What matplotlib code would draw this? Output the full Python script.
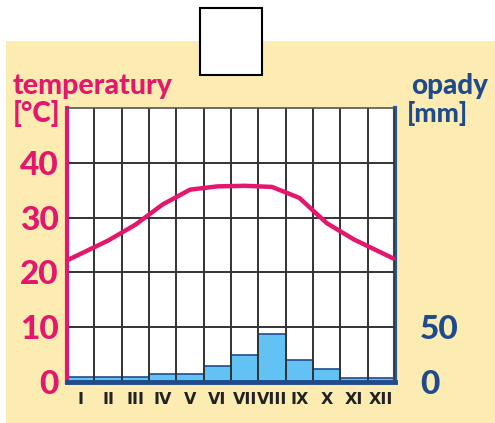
import numpy as np
import matplotlib
matplotlib.use("Agg")
import matplotlib.pyplot as plt
from matplotlib.patches import Rectangle

# Climate diagram data
months = ["I", "II", "III", "IV", "V", "VI", "VII", "VIII", "IX", "X", "XI", "XII"]
temperature = [23.4, 25.8, 28.7, 32.4, 35.1, 35.7, 35.8, 35.6, 33.6, 29.0, 26.0, 23.6]
precipitation = [5, 5, 5, 7, 7, 15, 25, 44, 20, 12, 4, 4]
temp_ticks = [0, 10, 20, 30, 40]
prec_ticks = [0, 50]

PINK = "#e3176c"
BLUE = "#1f4a8c"
BAR = "#62c2f4"
BG = "#fcecb2"

fig = plt.figure(figsize=(4.95, 4.23), dpi=100)
fig.patch.set_facecolor("white")

# yellow panel + empty white box on top
fig.add_artist(Rectangle((0.012, 0), 0.988, 0.903, transform=fig.transFigure,
                         facecolor=BG, edgecolor="none", zorder=-10))
fig.add_artist(Rectangle((0.404, 0.823), 0.125, 0.158, transform=fig.transFigure,
                         facecolor="white", edgecolor="black", lw=1.5, zorder=5))

ax = fig.add_axes([0.1354, 0.0969, 0.6626, 0.6478])
ax2 = ax.twinx()

# precipitation bars on the right axis, drawn behind
ax2.patch.set_visible(True)
ax2.patch.set_facecolor("white")
ax.set_zorder(ax2.get_zorder() + 1)
ax.patch.set_visible(False)

x = np.arange(12) + 0.5
ax2.bar(x, precipitation, width=1.0, color=BAR, edgecolor=BLUE, linewidth=1.2)
ax2.set_ylim(0, 250)
ax2.set_yticks(prec_ticks)
ax2.set_yticklabels([str(t) for t in prec_ticks], color=BLUE,
                    fontsize=24, fontfamily="Lato", fontweight="black")

# temperature line, extended to the plot edges
t = np.array(temperature)
xs = np.concatenate([[0], x, [12]])
ts = np.concatenate([[t[0] - (t[1] - t[0]) / 2], t, [t[-1] + (t[-1] - t[-2]) / 2]])
ax.plot(xs, ts, color=PINK, lw=3.2, solid_capstyle="butt", solid_joinstyle="round", zorder=5)

ax.set_xlim(0, 12)
ax.set_ylim(0, 50)
ax.set_yticks(temp_ticks)
ax.set_yticklabels([str(t) for t in temp_ticks], color=PINK,
                   fontsize=24, fontfamily="Lato", fontweight="black")
ax.set_xticks(x)
ax.set_xticklabels(months, fontsize=11.5, fontfamily="Liberation Sans Narrow",
                   fontweight="bold", color="#222222")
ax.set_xticks(range(13), minor=True)
ax.tick_params(which="both", length=0)
ax.tick_params(axis="y", pad=6)
ax.tick_params(axis="x", pad=7)
ax2.tick_params(length=0, pad=18)

ax.grid(which="minor", axis="x", color="#333333", lw=1.4)
ax.grid(which="major", axis="y", color="#333333", lw=1.4)
ax.grid(which="major", axis="x", visible=False)
ax.set_axisbelow(True)

for a in (ax, ax2):
    for s in a.spines.values():
        s.set_visible(False)
ax.spines["left"].set_visible(True)
ax.spines["left"].set_color(PINK)
ax.spines["left"].set_linewidth(3)
ax.spines["bottom"].set_visible(True)
ax.spines["bottom"].set_color(BLUE)
ax.spines["bottom"].set_linewidth(3.5)
ax.spines["top"].set_visible(True)
ax.spines["top"].set_color("#555555")
ax.spines["top"].set_linewidth(1.2)
ax2.spines["right"].set_visible(True)
ax2.spines["right"].set_color("#1d5aa6")
ax2.spines["right"].set_linewidth(3)

# axis titles
fig.text(0.026, 0.777, "temperatury", color=PINK, fontsize=20.5,
         fontfamily="Lato", fontweight="black", va="baseline")
fig.text(0.026, 0.712, "[°C]", color=PINK, fontsize=20,
         fontfamily="Lato", fontweight="black", va="baseline")
fig.text(0.985, 0.777, "opady", color=BLUE, fontsize=20,
         fontfamily="Lato", fontweight="black", va="baseline", ha="right")
fig.text(0.822, 0.712, "[mm]", color=BLUE, fontsize=19,
         fontfamily="Lato", fontweight="black", va="baseline")

fig.savefig("out.png", dpi=100)
